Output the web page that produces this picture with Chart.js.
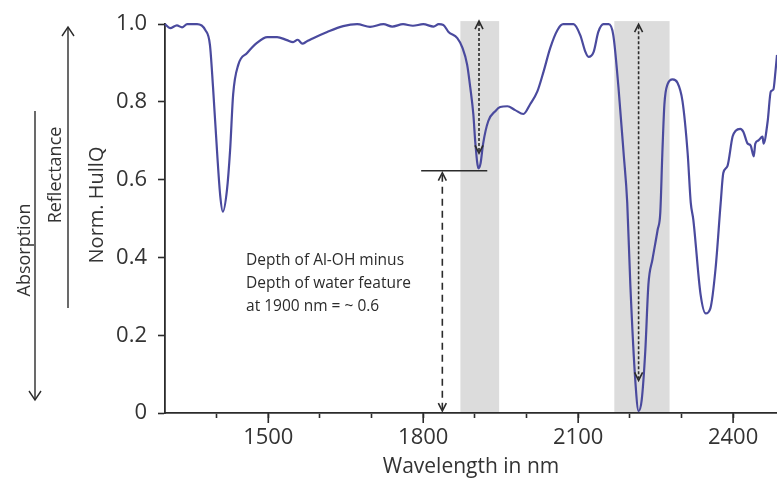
<!DOCTYPE html>
<html>
<head>
<meta charset="utf-8">
<script src="https://cdn.jsdelivr.net/npm/chart.js@4"></script>
<style>
html, body { margin: 0; padding: 0; background: #fff; }
</style>
</head>
<body>
<canvas id="myChart" width="777" height="493"></canvas>
<script>
// spectrum
const wavelengths = [1300, 1310, 1323, 1333, 1343, 1362, 1378, 1387, 1393, 1401, 1407, 1412, 1420, 1426, 1432, 1442, 1459, 1478, 1498, 1517, 1536, 1548, 1557, 1566, 1575, 1587, 1614, 1645, 1672, 1697, 1723, 1740, 1761, 1780, 1800, 1820, 1830, 1839, 1849, 1866, 1876, 1885, 1891, 1897, 1901, 1907, 1911, 1916, 1926, 1940, 1949, 1963, 1978, 1994, 2007, 2021, 2033, 2046, 2060, 2071, 2091, 2104, 2114, 2120, 2130, 2139, 2149, 2159, 2168, 2178, 2188, 2195, 2201, 2211, 2217, 2223, 2230, 2236, 2244, 2254, 2259, 2263, 2267, 2273, 2283, 2292, 2302, 2312, 2318, 2323, 2337, 2347, 2356, 2366, 2376, 2381, 2389, 2399, 2405, 2414, 2420, 2428, 2434, 2440, 2443, 2449, 2457, 2459, 2467, 2473, 2478, 2482, 2485]
const hullq = [1.0, 0.99, 0.997, 0.992, 1.0, 1.0, 0.985, 0.947, 0.838, 0.668, 0.558, 0.518, 0.574, 0.675, 0.82, 0.896, 0.926, 0.952, 0.967, 0.967, 0.959, 0.954, 0.96, 0.95, 0.956, 0.964, 0.98, 0.995, 1.0, 0.993, 1.0, 0.994, 1.0, 0.996, 1.0, 0.994, 1.0, 0.998, 0.98, 0.964, 0.939, 0.896, 0.838, 0.769, 0.693, 0.629, 0.642, 0.693, 0.751, 0.777, 0.787, 0.789, 0.779, 0.769, 0.794, 0.827, 0.878, 0.939, 0.985, 1.0, 1.0, 0.972, 0.929, 0.916, 0.929, 0.98, 1.0, 1.0, 0.972, 0.838, 0.668, 0.541, 0.33, 0.076, 0.005, 0.033, 0.16, 0.33, 0.396, 0.472, 0.515, 0.668, 0.794, 0.845, 0.858, 0.85, 0.802, 0.668, 0.541, 0.497, 0.305, 0.256, 0.269, 0.371, 0.541, 0.617, 0.635, 0.711, 0.726, 0.731, 0.723, 0.693, 0.688, 0.66, 0.693, 0.701, 0.711, 0.693, 0.751, 0.827, 0.832, 0.878, 0.921]

const xTicks = [1400, 1500, 1600, 1700, 1800, 1900, 2000, 2100, 2200, 2300, 2400]
const xLabels = [1500, 1800, 2100, 2400]
const yTicks = [0, 0.2, 0.4, 0.6, 0.8, 1.0]

// grey feature windows (nm)
const bandStart = [1872, 2170]
const bandEnd = [1947, 2277]
const bandTop = 1.008

// depth arrows
const arrowX = [1908, 2217, 1837]
const arrowLow = [0.668, 0.084, 0.005]
const arrowHigh = [1.008, 1.0, 0.618]
const waterMin = 0.623 // level of the 1900 nm minimum
const levelFrom = 1796
const levelTo = 1924

const noteLines = ['Depth of Al-OH minus', 'Depth of water feature', 'at 1900 nm = ~ 0.6']
const noteX = 1457
const noteY = 0.393

const INK = '#2b2b2b'
const FONT = 'Open Sans'

function chevron(ctx, x, y, dir){ // dir -1 = up, 1 = down
    ctx.beginPath()
    ctx.moveTo(x - 4, y - dir * 8)
    ctx.lineTo(x, y)
    ctx.lineTo(x + 4, y - dir * 8)
    ctx.stroke()
}

const extras = {
    id: 'extras',
    beforeDatasetsDraw(chart){
        const {ctx, scales: {x, y}} = chart
        ctx.save()
        ctx.fillStyle = '#dcdcdc'
        bandStart.forEach((a, i) => {
            const x1 = x.getPixelForValue(a)
            const x2 = x.getPixelForValue(bandEnd[i])
            const yt = y.getPixelForValue(bandTop)
            ctx.fillRect(x1, yt, x2 - x1, y.getPixelForValue(0) - yt - 1)
        })
        ctx.restore()
    },
    afterDraw(chart){
        const {ctx, scales: {x, y}} = chart
        ctx.save()
        ctx.strokeStyle = INK
        ctx.fillStyle = INK
        ctx.lineWidth = 1.6

        // longer major ticks
        xLabels.forEach(v => {
            const px = x.getPixelForValue(v)
            ctx.beginPath()
            ctx.moveTo(px, y.bottom)
            ctx.lineTo(px, y.bottom + 10)
            ctx.stroke()
        })

        // level line at the water minimum
        ctx.beginPath()
        ctx.moveTo(x.getPixelForValue(levelFrom), y.getPixelForValue(waterMin))
        ctx.lineTo(x.getPixelForValue(levelTo), y.getPixelForValue(waterMin))
        ctx.stroke()

        // depth arrows
        arrowX.forEach((v, i) => {
            const px = x.getPixelForValue(v)
            const top = y.getPixelForValue(arrowHigh[i])
            const bot = y.getPixelForValue(arrowLow[i])
            ctx.setLineDash(i < 2 ? [3, 2] : [7, 5])
            ctx.beginPath()
            ctx.moveTo(px, top + 2)
            ctx.lineTo(px, bot - 2)
            ctx.stroke()
            ctx.setLineDash([])
            chevron(ctx, px, top, -1)
            chevron(ctx, px, bot, 1)
        })

        // note text
        ctx.font = `15.5px "${FONT}"`
        ctx.textAlign = 'left'
        ctx.textBaseline = 'middle'
        noteLines.forEach((t, i) => {
            ctx.fillText(t, x.getPixelForValue(noteX), y.getPixelForValue(noteY) + i * 23)
        })

        // side labels
        ctx.fillStyle = '#333'
        const side = (t, cx, cy, size) => {
            ctx.save()
            ctx.translate(cx, cy)
            ctx.rotate(-Math.PI / 2)
            ctx.textAlign = 'center'
            ctx.font = `${size}px "${FONT}"`
            ctx.fillText(t, 0, 0)
            ctx.restore()
        }
        side('Norm. HullQ', 97, 205, 20)
        side('Reflectance', 56, 175, 18)
        side('Absorption', 25, 250, 18)

        ctx.lineWidth = 1.4
        ctx.beginPath()
        ctx.moveTo(68, 28)
        ctx.lineTo(68, 308)
        ctx.stroke()
        ctx.beginPath()
        ctx.moveTo(62, 36); ctx.lineTo(68, 27); ctx.lineTo(74, 36)
        ctx.stroke()
        ctx.beginPath()
        ctx.moveTo(35, 111)
        ctx.lineTo(35, 399)
        ctx.stroke()
        ctx.beginPath()
        ctx.moveTo(29, 391); ctx.lineTo(35, 400); ctx.lineTo(41, 391)
        ctx.stroke()
        ctx.restore()
    }
}

const ctx = document.getElementById('myChart')

new Chart(ctx, {
    type: 'line',
    data: {
        datasets: [{
            label: 'Norm. HullQ',
            data: wavelengths.map((w, i) => ({x: w, y: hullq[i]})),
            borderColor: '#4a4a9e',
            borderWidth: 2.2,
            pointRadius: 0,
            cubicInterpolationMode: 'monotone',
            clip: 6
        }]
    },
    options: {
        responsive: false,
        devicePixelRatio: 1,
        animation: false,
        layout: { padding: { top: 19, left: 0, right: 0, bottom: 0 } },
        plugins: {
            legend: { display: false },
            tooltip: { enabled: false }
        },
        scales: {
            x: {
                type: 'linear',
                min: 1300,
                max: 2485,
                afterBuildTicks: axis => { axis.ticks = xTicks.map(v => ({value: v})) },
                afterFit: s => { s.height = 80 },
                ticks: {
                    autoSkip: false,
                    maxRotation: 0,
                    padding: 7,
                    color: '#333',
                    font: { family: FONT, size: 22 },
                    callback: v => xLabels.includes(v) ? String(v) : ''
                },
                grid: { drawOnChartArea: false, tickLength: 5, tickColor: INK, tickWidth: 1.6 },
                border: { color: INK, width: 1.8 },
                title: {
                    display: true,
                    text: 'Wavelength in nm',
                    color: '#333',
                    font: { family: FONT, size: 21 },
                    padding: { top: 0, bottom: 13 }
                }
            },
            y: {
                min: 0,
                max: 1,
                afterBuildTicks: axis => { axis.ticks = yTicks.map(v => ({value: v})) },
                afterFit: s => { s.width = 165 },
                ticks: {
                    padding: 11,
                    color: '#333',
                    font: { family: FONT, size: 22 },
                    callback: v => v === 0 ? '0' : v.toFixed(1)
                },
                grid: { drawOnChartArea: false, tickLength: 7, tickColor: INK, tickWidth: 1.6 },
                border: { color: INK, width: 1.8 }
            }
        }
    },
    plugins: [extras]
})
</script>
</body>
</html>
